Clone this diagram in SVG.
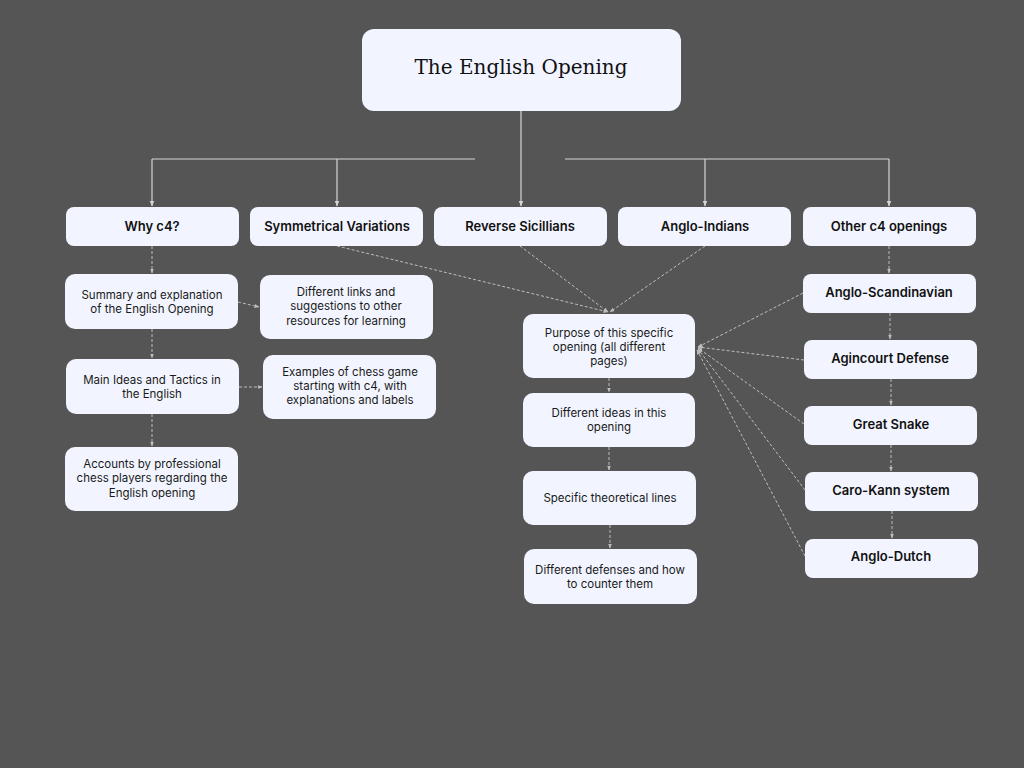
<svg xmlns="http://www.w3.org/2000/svg" width="1024" height="768" viewBox="0 0 1024 768">
<defs>
<style>
.bg{fill:#555555}
.box{fill:#f2f5ff;stroke:none}
.t{font-family:Inter,"Liberation Sans",sans-serif;font-size:11.5px;fill:#1a1a1a;text-anchor:middle}
.b{font-family:Inter,"Liberation Sans",sans-serif;font-size:13px;font-weight:600;fill:#111;text-anchor:middle}
.title{font-family:"DejaVu Serif","Liberation Serif",serif;font-size:20px;fill:#111;text-anchor:middle}
.solid{stroke:#d6d6d6;stroke-width:1.2;fill:none}
.dash{stroke:#bdbdbd;stroke-width:1;stroke-dasharray:3 2;fill:none}
</style>
<marker id="a" viewBox="0 0 10 10" refX="9" refY="5" markerWidth="6" markerHeight="6" orient="auto" markerUnits="userSpaceOnUse">
<path d="M0,1 L10,5 L0,9 z" fill="#d6d6d6"/>
</marker>
<marker id="ad" viewBox="0 0 10 10" refX="9" refY="5" markerWidth="5" markerHeight="5" orient="auto" markerUnits="userSpaceOnUse">
<path d="M0,1 L10,5 L0,9 z" fill="#bdbdbd"/>
</marker>
</defs>
<rect class="bg" x="0" y="0" width="1024" height="768"/>

<g id="connectors">
<path class="solid" d="M521,111 V206" marker-end="url(#a)"/>
<path class="solid" d="M152,159 H475"/>
<path class="solid" d="M565,159 H889"/>
<path class="solid" d="M152,159 V206" marker-end="url(#a)"/>
<path class="solid" d="M337,159 V206" marker-end="url(#a)"/>
<path class="solid" d="M705,159 V206" marker-end="url(#a)"/>
<path class="solid" d="M889,159 V206" marker-end="url(#a)"/>

<path class="dash" d="M152,246 V273" marker-end="url(#ad)"/>
<path class="dash" d="M152,329 V358" marker-end="url(#ad)"/>
<path class="dash" d="M152,414 V446" marker-end="url(#ad)"/>
<path class="dash" d="M238,302 L259,307" marker-end="url(#ad)"/>
<path class="dash" d="M239,387 H262" marker-end="url(#ad)"/>

<path class="dash" d="M337,246 L608,312" marker-end="url(#ad)"/>
<path class="dash" d="M520,246 L608,312" marker-end="url(#ad)"/>
<path class="dash" d="M705,246 L610,312" marker-end="url(#ad)"/>
<path class="dash" d="M609,378 V392" marker-end="url(#ad)"/>
<path class="dash" d="M609,447 V470" marker-end="url(#ad)"/>
<path class="dash" d="M610,525 V548" marker-end="url(#ad)"/>

<path class="dash" d="M889,246 V273" marker-end="url(#ad)"/>
<path class="dash" d="M890,313 V339" marker-end="url(#ad)"/>
<path class="dash" d="M891,379 V405" marker-end="url(#ad)"/>
<path class="dash" d="M891,445 V471" marker-end="url(#ad)"/>
<path class="dash" d="M892,511 V538" marker-end="url(#ad)"/>

<path class="dash" d="M803,293 L698,347" marker-end="url(#ad)"/>
<path class="dash" d="M804,360 L698,347" marker-end="url(#ad)"/>
<path class="dash" d="M804,424 L698,348" marker-end="url(#ad)"/>
<path class="dash" d="M805,490 L698,349" marker-end="url(#ad)"/>
<path class="dash" d="M805,556 L697,350" marker-end="url(#ad)"/>
</g>

<g id="n-title"><rect class="box" x="362" y="29" width="319" height="82" rx="12"/><text class="title" x="521" y="74">The English Opening</text></g>

<g id="n-why"><rect class="box" x="66" y="207" width="173" height="39" rx="8"/><text class="b" x="152" y="231">Why c4?</text></g>
<g id="n-sym"><rect class="box" x="250" y="207" width="173" height="39" rx="8"/><text class="b" x="337" y="231">Symmetrical Variations</text></g>
<g id="n-rev"><rect class="box" x="434" y="207" width="173" height="39" rx="8"/><text class="b" x="520" y="231">Reverse Sicillians</text></g>
<g id="n-ai"><rect class="box" x="618" y="207" width="173" height="39" rx="8"/><text class="b" x="705" y="231">Anglo-Indians</text></g>
<g id="n-other"><rect class="box" x="803" y="207" width="173" height="39" rx="8"/><text class="b" x="889" y="231">Other c4 openings</text></g>

<g id="n-summary"><rect class="box" x="65" y="274" width="173" height="55" rx="10"/><text class="t" x="152" y="299">Summary and explanation</text><text class="t" x="152" y="313">of the English Opening</text></g>
<g id="n-links"><rect class="box" x="260" y="275" width="173" height="64" rx="10"/><text class="t" x="346" y="296">Different links and</text><text class="t" x="346" y="310">suggestions to other</text><text class="t" x="346" y="325">resources for learning</text></g>
<g id="n-main"><rect class="box" x="66" y="359" width="173" height="55" rx="10"/><text class="t" x="152" y="384">Main Ideas and Tactics in</text><text class="t" x="152" y="398">the English</text></g>
<g id="n-examples"><rect class="box" x="263" y="355" width="173" height="64" rx="10"/><text class="t" x="350" y="376">Examples of chess game</text><text class="t" x="350" y="390">starting with c4, with</text><text class="t" x="350" y="404">explanations and labels</text></g>
<g id="n-accounts"><rect class="box" x="65" y="447" width="173" height="64" rx="10"/><text class="t" x="152" y="468">Accounts by professional</text><text class="t" x="152" y="482">chess players regarding the</text><text class="t" x="152" y="497">English opening</text></g>

<g id="n-purpose"><rect class="box" x="523" y="314" width="172" height="64" rx="10"/><text class="t" x="609" y="337">Purpose of this specific</text><text class="t" x="609" y="351">opening (all different</text><text class="t" x="609" y="365">pages)</text></g>
<g id="n-ideas"><rect class="box" x="523" y="393" width="172" height="54" rx="10"/><text class="t" x="609" y="417">Different ideas in this</text><text class="t" x="609" y="431">opening</text></g>
<g id="n-lines"><rect class="box" x="523" y="471" width="173" height="54" rx="10"/><text class="t" x="610" y="502">Specific theoretical lines</text></g>
<g id="n-defenses"><rect class="box" x="524" y="549" width="173" height="55" rx="10"/><text class="t" x="610" y="574">Different defenses and how</text><text class="t" x="610" y="588">to counter them</text></g>

<g id="n-scand"><rect class="box" x="803" y="274" width="173" height="39" rx="8"/><text class="b" x="889" y="297">Anglo-Scandinavian</text></g>
<g id="n-agin"><rect class="box" x="804" y="340" width="173" height="39" rx="8"/><text class="b" x="890" y="363">Agincourt Defense</text></g>
<g id="n-snake"><rect class="box" x="804" y="406" width="173" height="39" rx="8"/><text class="b" x="891" y="429">Great Snake</text></g>
<g id="n-caro"><rect class="box" x="805" y="472" width="173" height="39" rx="8"/><text class="b" x="891" y="495">Caro-Kann system</text></g>
<g id="n-dutch"><rect class="box" x="805" y="539" width="173" height="39" rx="8"/><text class="b" x="891" y="561">Anglo-Dutch</text></g>
</svg>
